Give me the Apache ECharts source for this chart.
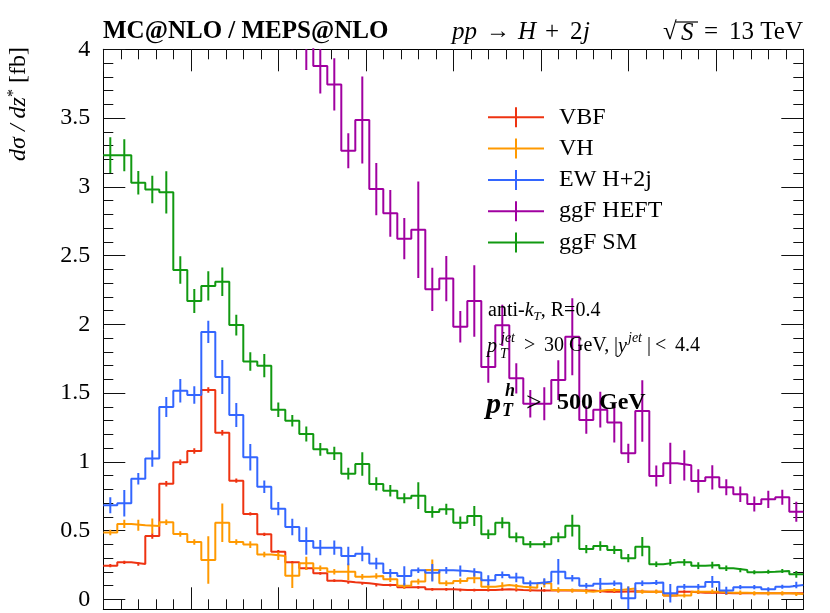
<!DOCTYPE html>
<html><head><meta charset="utf-8">
<script src="https://cdn.jsdelivr.net/npm/echarts@6/dist/echarts.min.js"></script>
<style>html,body{margin:0;padding:0;background:#fff}#c{width:830px;height:613px}</style>
</head><body><div id="c"></div>
<script>
// ---- axis setup (z* bins) ----
const xMin = 0, xMax = 8, nBins = 50;
const yTicks = [0, 0.5, 1, 1.5, 2, 2.5, 3, 3.5, 4];

// ---- series values (dσ/dz* [fb]) per bin ----
const vbf = [0.246,0.27,0.258,0.462,0.842,0.997,1.08,1.523,1.213,0.864,
  0.622,0.474,0.348,0.27,0.227,0.19,0.137,0.125,0.118,0.105,
  0.105,0.089,0.089,0.074,0.074,0.069,0.069,0.069,0.075,0.069,
  0.066,0.066,0.066,0.066,0.066,0.057,0.057,0.06,0.057,0.057,
  0.03,0.057,0.05,0.05,0.045,0.045,0.045,0.045,0.045,0.045];
const vbfErr = [0.012,0.012,0.012,0.02,0.02,0.02,0.02,0.02,0.02,0.015,
  0.012,0.012,0.012,0.01,0.01,0.01,0.01,0.01,0.01,0.01,
  0.01,0.01,0.01,0.01,0.01,0.01,0.01,0.01,0.01,0.01,
  0.01,0.01,0.01,0.01,0.01,0.01,0.01,0.01,0.01,0.01,
  0.01,0.01,0.01,0.01,0.01,0.01,0.01,0.01,0.01,0.01];

const vh = [0.488,0.549,0.54,0.534,0.561,0.476,0.418,0.287,0.558,0.418,
  0.399,0.328,0.316,0.173,0.263,0.227,0.202,0.202,0.166,0.17,
  0.147,0.1,0.13,0.214,0.118,0.134,0.154,0.093,0.105,0.093,
  0.086,0.118,0.069,0.065,0.057,0.069,0.069,0.08,0.057,0.057,
  0.03,0.03,0.057,0.057,0.05,0.05,0.045,0.045,0.045,0.04];
const vhErr = [0.02,0.03,0.04,0.055,0.02,0.02,0.02,0.172,0.14,0.02,
  0.024,0.02,0.028,0.09,0.048,0.02,0.02,0.06,0.02,0.02,
  0.02,0.02,0.02,0.076,0.02,0.02,0.036,0.02,0.02,0.02,
  0.02,0.03,0.02,0.015,0.015,0.015,0.015,0.015,0.015,0.015,
  0.015,0.015,0.015,0.015,0.015,0.015,0.015,0.015,0.015,0.015];

const ew = [0.685,0.70,0.878,1.026,1.40,1.518,1.487,1.945,1.618,1.341,
  1.034,0.82,0.66,0.527,0.425,0.377,0.377,0.316,0.333,0.262,
  0.192,0.171,0.212,0.195,0.212,0.208,0.197,0.14,0.179,0.16,
  0.118,0.13,0.202,0.154,0.1,0.115,0.118,0.009,0.118,0.123,
  0.045,0.093,0.093,0.128,0.066,0.09,0.09,0.074,0.093,0.105];
const ewErr = [0.058,0.097,0.042,0.06,0.073,0.085,0.063,0.081,0.124,0.087,
  0.097,0.046,0.048,0.06,0.1,0.055,0.052,0.067,0.055,0.042,
  0.03,0.07,0.02,0.064,0.024,0.04,0.03,0.036,0.024,0.034,
  0.02,0.024,0.093,0.024,0.02,0.042,0.02,0.085,0.02,0.018,
  0.067,0.02,0.02,0.042,0.027,0.015,0.015,0.015,0.015,0.024];

const heft = [7.2,7.0,6.8,6.6,6.3,6.0,5.7,5.5,5.3,5.0,
  4.8,4.6,4.4,4.3,4.15,3.878,3.745,3.263,3.486,2.984,
  2.808,2.623,2.688,2.255,2.333,1.983,2.17,1.69,1.993,1.608,
  1.424,1.424,1.595,1.911,1.305,1.38,1.286,1.063,1.37,0.898,
  0.99,0.976,0.862,0.888,0.816,0.765,0.694,0.728,0.743,0.638];
const heftErr = [0.3,0.3,0.3,0.3,0.3,0.3,0.3,0.3,0.3,0.3,
  0.3,0.3,0.3,0.3,0.3,0.2,0.19,0.127,0.317,0.19,
  0.17,0.15,0.35,0.157,0.164,0.115,0.26,0.115,0.15,0.11,
  0.1,0.12,0.145,0.28,0.1,0.13,0.145,0.07,0.224,0.076,
  0.15,0.11,0.085,0.088,0.058,0.057,0.055,0.063,0.055,0.073];

const sm = [3.23,3.23,3.03,2.98,2.96,2.395,2.17,2.28,2.31,1.995,
  1.73,1.70,1.38,1.30,1.203,1.092,1.063,0.915,0.985,0.84,
  0.791,0.736,0.755,0.636,0.656,0.558,0.607,0.474,0.558,0.452,
  0.401,0.401,0.452,0.537,0.367,0.389,0.36,0.30,0.384,0.256,
  0.27,0.27,0.246,0.25,0.227,0.214,0.198,0.202,0.207,0.183];
const smErr = [0.13,0.116,0.085,0.1,0.154,0.1,0.088,0.107,0.103,0.076,
  0.067,0.085,0.053,0.042,0.055,0.046,0.048,0.042,0.085,0.048,
  0.042,0.036,0.097,0.042,0.04,0.045,0.073,0.035,0.04,0.035,
  0.025,0.025,0.035,0.079,0.03,0.035,0.03,0.03,0.07,0.02,
  0.025,0.025,0.025,0.025,0.02,0.015,0.015,0.015,0.015,0.025];

const seriesNames = ['VBF','VH','EW H+2j','ggF HEFT','ggF SM'];
const seriesColors = ['#ee3311','#ff9900','#3366ff','#a000a0','#119911'];
const seriesVals = [vbf, vh, ew, heft, sm];
const seriesErrs = [vbfErr, vhErr, ewErr, heftErr, smErr];

// ---- build ----
const bw = (xMax - xMin) / nBins;
const edge = i => xMin + i * bw;
const FONT = '"Liberation Serif", "DejaVu Serif", serif';

function stepData(v){
  const d = v.map((y,i)=>[edge(i), y]);
  d.push([edge(nBins), v[nBins-1]]);
  return d;
}
function errData(v,e){ return v.map((y,i)=>[edge(i)+bw/2, y, e[i]]); }

const series = [];
seriesVals.forEach((v,k)=>{
  const col = seriesColors[k];
  series.push({type:'line', name:seriesNames[k], xAxisIndex:0, yAxisIndex:0,
    step:'end', data:stepData(v), symbol:'none', clip:true, animation:false,
    lineStyle:{color:col, width:2}, z:2+k});
  series.push({type:'custom', xAxisIndex:0, yAxisIndex:0, clip:true, animation:false,
    data:errData(v, seriesErrs[k]), encode:{x:0,y:1}, z:2+k,
    renderItem:(params, api)=>{
      const x = api.value(0), y = api.value(1), e = api.value(2);
      const a = api.coord([x, y+e]), b = api.coord([x, y-e]);
      return {type:'line', shape:{x1:a[0],y1:a[1],x2:b[0],y2:b[1]},
        style:{stroke:col, lineWidth:2}};
    }});
});

const L=103.3, R=830-803.3, T=49.3;
const tickCol = '#111';
function xAx(pos, grid, show){
  return {type:'value', gridIndex:grid, position:pos, min:xMin, max:xMax, interval:1, show:show,
    axisLine:{show:true, onZero:false, lineStyle:{color:'#000', width:1}},
    axisTick:{show:true, inside:true, length:22, lineStyle:{color:tickCol, width:1}},
    minorTick:{show:true, splitNumber:5, length:10, lineStyle:{color:tickCol, width:1}},
    axisLabel:{show:false}, splitLine:{show:false}, minorSplitLine:{show:false}};
}
const yMinFrame = -0.0712;
const option = {
  backgroundColor:'#fff',
  animation:false,
  grid:[
    {left:L, right:R, top:T, bottom:613-609.3},
    {left:L, right:R, top:T, bottom:613-599.5}
  ],
  xAxis:[ xAx('bottom',0,true), xAx('top',0,true),
    {type:'value', gridIndex:1, min:xMin, max:xMax, show:false} ],
  yAxis:[
    {type:'value', gridIndex:0, position:'left', min:yMinFrame, max:4,
      axisLine:{show:true, onZero:false, lineStyle:{color:'#000', width:1}},
      axisTick:{show:false}, axisLabel:{show:false}, splitLine:{show:false}},
    {type:'value', gridIndex:0, position:'right', min:yMinFrame, max:4,
      axisLine:{show:true, onZero:false, lineStyle:{color:'#000', width:1}},
      axisTick:{show:false}, axisLabel:{show:false}, splitLine:{show:false}},
    {type:'value', gridIndex:1, position:'left', min:yTicks[0], max:yTicks[yTicks.length-1], interval:0.5,
      axisLine:{show:false},
      axisTick:{show:true, inside:true, length:22, lineStyle:{color:tickCol}},
      minorTick:{show:true, splitNumber:5, length:10, lineStyle:{color:tickCol}},
      axisLabel:{show:true, margin:13, color:'#000', fontFamily:FONT, fontSize:24,
        formatter:v=>String(v)},
      splitLine:{show:false}},
    {type:'value', gridIndex:1, position:'right', min:yTicks[0], max:yTicks[yTicks.length-1], interval:0.5,
      axisLine:{show:false},
      axisTick:{show:true, inside:true, length:22, lineStyle:{color:tickCol}},
      minorTick:{show:true, splitNumber:5, length:10, lineStyle:{color:tickCol}},
      axisLabel:{show:false}, splitLine:{show:false}}
  ],
  series: series,
  graphic: []
};
const G = option.graphic;
function txt(x, y, s, font, extra){
  G.push(Object.assign({type:'text', x:x, y:y, z:20,
    style:Object.assign({text:s, font:font+' '+FONT, fill:'#000', verticalAlign:'middle', align:'left'}, extra||{})}));
}

// legend
const legY0 = 117.3, legDY = 31.3;
seriesNames.forEach((n,k)=>{
  const yy = legY0 + k*legDY, col = seriesColors[k];
  G.push({type:'line', shape:{x1:488,y1:yy,x2:544,y2:yy}, style:{stroke:col, lineWidth:2}, z:20});
  G.push({type:'line', shape:{x1:516,y1:yy-10,x2:516,y2:yy+10}, style:{stroke:col, lineWidth:2}, z:20});
  txt(559, yy, n, '24px');
});

// header
txt(103, 32, 'MC@NLO / MEPS@NLO', 'bold 25px');
txt(452, 32, 'pp', 'italic 25px');
txt(486, 32, '→', '24px');
txt(518, 32, 'H', 'italic 25px');
txt(545, 32, '+', '25px');
txt(570, 32, '2', '25px');
txt(583, 32, 'j', 'italic 25px');
txt(663, 32, '√', '25px');
txt(681, 33, 'S', 'italic 25px');
G.push({type:'line', shape:{x1:676,y1:22,x2:698,y2:22}, style:{stroke:'#000', lineWidth:1.2}, z:20});
txt(704, 32, '=', '25px');
txt(803, 32, '13 TeV', '25px', {align:'right'});

// y title
G.push({type:'text', x:19, y:104, rotation:Math.PI/2, z:20, style:{
  text:'{i|dσ / dz}{s|*} [fb]', align:'center', verticalAlign:'middle', fill:'#000', font:'24px '+FONT,
  rich:{i:{fontStyle:'italic', fontFamily:FONT, fontSize:24}, s:{fontFamily:FONT, fontSize:16, verticalAlign:'top', padding:[0,0,10,0]}}}});

// annotations
G.push({type:'text', x:488, y:311, z:20, style:{
  text:'anti-{i|k}{sb|T}, R=0.4', verticalAlign:'middle', fill:'#000', font:'20px '+FONT,
  rich:{i:{fontStyle:'italic', fontFamily:FONT, fontSize:20}, sb:{fontStyle:'italic', fontFamily:FONT, fontSize:13, padding:[11,0,0,0]}}}});
txt(487, 347, 'p', 'italic 20px');
txt(501, 338, 'jet', 'italic 14px');
txt(500, 354, 'T', 'italic 14px');
txt(524, 346, '>', '20px');
txt(544, 346, '30 GeV,', '20px');
txt(614, 346, '|', '20px');
txt(618, 347, 'y', 'italic 20px');
txt(628, 338, 'jet', 'italic 14px');
txt(647, 346, '|', '20px');
txt(655, 346, '<', '20px');
txt(675, 346, '4.4', '20px');

txt(486, 405, 'p', 'italic bold 30px');
txt(505, 391, 'h', 'italic bold 18px');
txt(502, 411, 'T', 'italic bold 18px');
txt(526, 404, '>', '28px');
txt(557, 403, '500 GeV', 'bold 24px');

const chart = echarts.init(document.getElementById('c'), null, {renderer:'canvas'});
chart.setOption(option);
</script></body></html>
